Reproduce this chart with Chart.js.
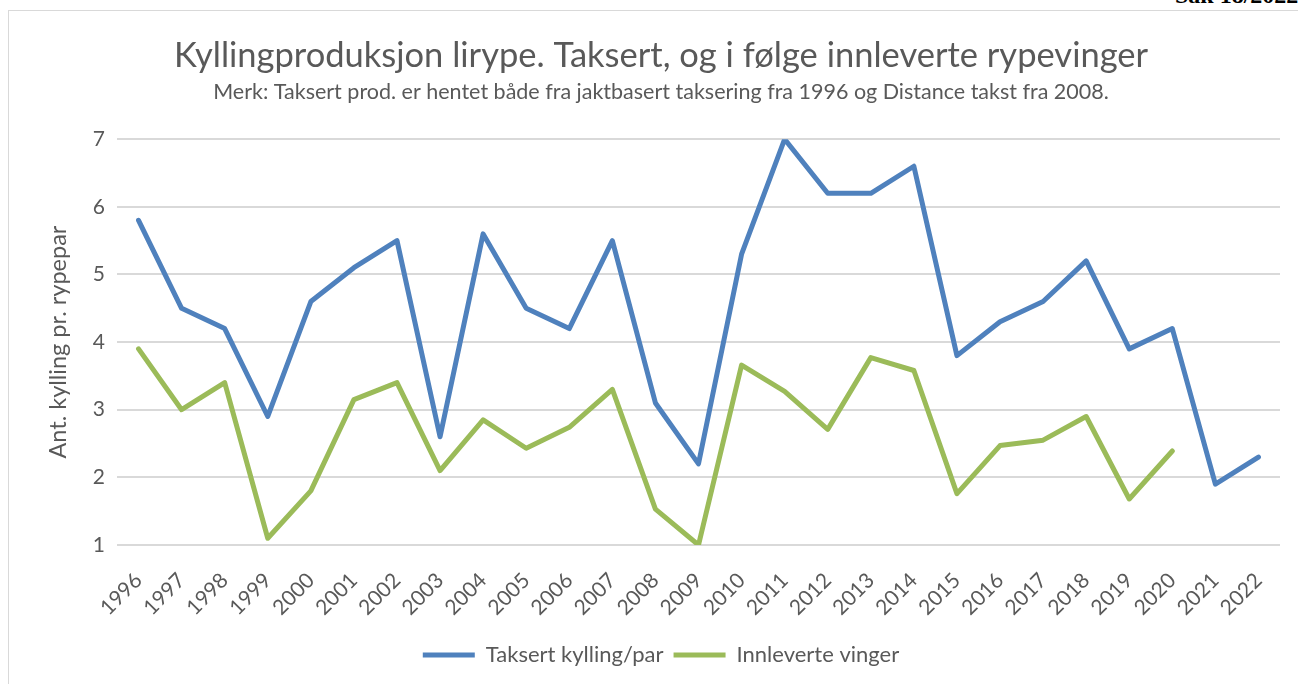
<!DOCTYPE html>
<html>
<head>
<meta charset="utf-8">
<script src="https://cdn.jsdelivr.net/npm/chart.js@4.4.0/dist/chart.umd.min.js"></script>
<style>
    html, body { margin: 0; padding: 0; background: #fff; overflow: hidden; }
    #frame { position: absolute; left: 8px; top: 10px; width: 1400px; height: 800px; border: 1px solid #d9d9d9; }
    #sak { position: absolute; left: 1175px; top: -17px; font: bold 24px "Liberation Serif", serif; line-height: 24px; color: #000; white-space: nowrap; }
    #wrap { position: absolute; left: 0; top: 0; width: 1298px; height: 684px; }
</style>
</head>
<body>
<div id="frame"></div>
<div id="sak">Sak 18/2022</div>
<div id="wrap"><canvas id="chart"></canvas></div>
<script>
// data
const years = ['1996', '1997', '1998', '1999', '2000', '2001', '2002', '2003', '2004', '2005',
    '2006', '2007', '2008', '2009', '2010', '2011', '2012', '2013', '2014', '2015',
    '2016', '2017', '2018', '2019', '2020', '2021', '2022'];
const taksert = [5.8, 4.5, 4.2, 2.9, 4.6, 5.1, 5.5, 2.6, 5.6, 4.5,
    4.2, 5.5, 3.1, 2.2, 5.3, 7.0, 6.2, 6.2, 6.6, 3.8,
    4.3, 4.6, 5.2, 3.9, 4.2, 1.9, 2.3];
const vinger = [3.9, 3.0, 3.4, 1.1, 1.8, 3.15, 3.4, 2.1, 2.85, 2.43,
    2.74, 3.3, 1.53, 1.0, 3.66, 3.27, 2.71, 3.77, 3.58, 1.76,
    2.47, 2.55, 2.9, 1.68, 2.39, null, null];
const yTicks = [1, 2, 3, 4, 5, 6, 7];

const textColor = '#595959';
const gridColor = '#d9d9d9';
const fontFamily = 'Lato, "Open Sans", sans-serif';

Chart.defaults.font.family = fontFamily;
Chart.defaults.color = textColor;

const ctx = document.getElementById('chart').getContext('2d');
new Chart(ctx, {
    type: 'line',
    data: {
        labels: years,
        datasets: [{
            label: 'Taksert kylling/par',
            data: taksert,
            borderColor: '#4f81bd',
            backgroundColor: '#4f81bd',
            borderWidth: 5,
            borderCapStyle: 'round',
            borderJoinStyle: 'round',
            pointRadius: 0,
            pointHoverRadius: 0,
            tension: 0
        }, {
            label: 'Innleverte vinger',
            data: vinger,
            borderColor: '#9bbb59',
            backgroundColor: '#9bbb59',
            borderWidth: 5,
            borderCapStyle: 'round',
            borderJoinStyle: 'round',
            pointRadius: 0,
            pointHoverRadius: 0,
            tension: 0
        }]
    },
    options: {
        responsive: true,
        maintainAspectRatio: false,
        animation: false,
        layout: {
            padding: { left: 42, right: 18, top: 0, bottom: 8 }
        },
        plugins: {
            title: {
                display: true,
                text: 'Kyllingproduksjon lirype. Taksert, og i følge innleverte rypevinger',
                color: textColor,
                font: { size: 34.5, weight: 'normal' },
                padding: { top: 35, bottom: 0 }
            },
            subtitle: {
                display: true,
                text: 'Merk: Taksert prod. er hentet både fra jaktbasert taksering fra 1996 og Distance takst fra 2008.',
                color: textColor,
                font: { size: 21.5, weight: 'normal' },
                padding: { top: 3, bottom: 34 }
            },
            legend: {
                position: 'bottom',
                labels: {
                    usePointStyle: true,
                    pointStyle: 'line',
                    boxWidth: 52,
                    pointStyleWidth: 52,
                    boxHeight: 22,
                    color: textColor,
                    font: { size: 22 },
                    padding: 10
                }
            },
            tooltip: { enabled: false }
        },
        scales: {
            x: {
                offset: true,
                grid: { display: false },
                border: { display: false },
                ticks: {
                    minRotation: 45,
                    maxRotation: 45,
                    autoSkip: false,
                    color: textColor,
                    font: { size: 21 },
                    padding: 15
                },
                afterFit: axis => { axis.height = 89; }
            },
            y: {
                min: 1,
                max: 7,
                afterBuildTicks: axis => {
                    axis.ticks = yTicks.map(v => ({ value: v }));
                },
                grid: { color: gridColor, lineWidth: 2, drawTicks: false },
                border: { display: false },
                ticks: {
                    color: textColor,
                    font: { size: 21 },
                    padding: 12
                },
                title: {
                    display: true,
                    text: 'Ant. kylling pr. rypepar',
                    color: textColor,
                    font: { size: 23.5 },
                    padding: 2
                },
                afterFit: axis => { axis.width = 75; }
            }
        }
    }
});
</script>
</body>
</html>
